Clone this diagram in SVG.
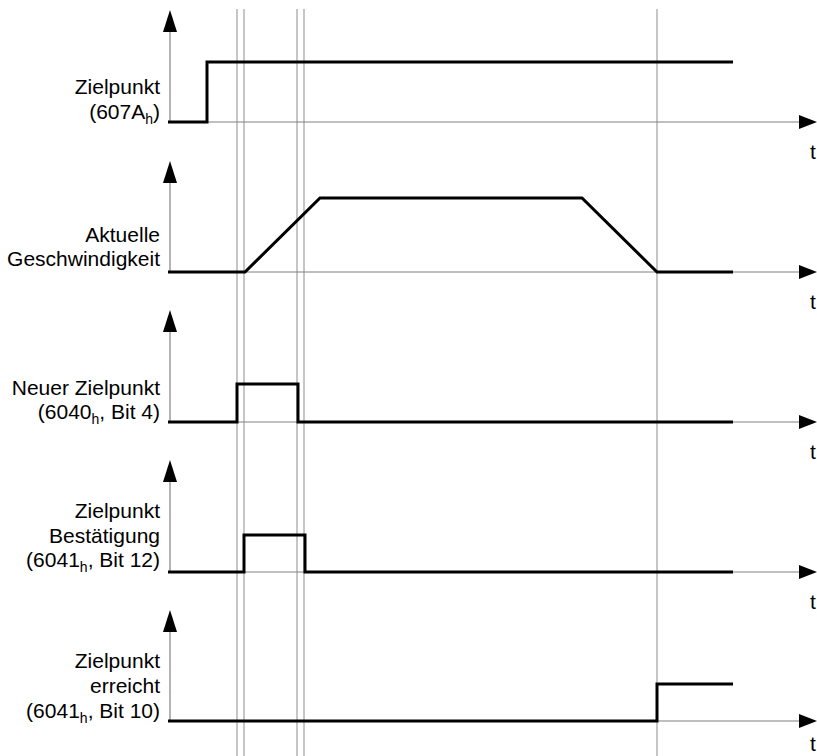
<svg xmlns="http://www.w3.org/2000/svg" width="817" height="756" viewBox="0 0 817 756">
<style>
.ax{stroke:#808080;stroke-width:1.2;fill:none}
.gd{stroke:#a0a0a0;stroke-width:1.2;fill:none}
.sig{stroke:#000;stroke-width:3;fill:none;stroke-linejoin:miter}
.ah{fill:#000}
text{font-family:"Liberation Sans",Arial,sans-serif;font-size:21px;fill:#000}
.lbl{text-anchor:end}
.sub{font-size:14px}
</style>
<rect width="817" height="756" fill="#fff"/>
<g id="guides">
<line class="gd" x1="237" y1="9" x2="237" y2="756"/>
<line class="gd" x1="244" y1="9" x2="244" y2="756"/>
<line class="gd" x1="297" y1="9" x2="297" y2="756"/>
<line class="gd" x1="304" y1="9" x2="304" y2="756"/>
<line class="gd" x1="657" y1="9" x2="657" y2="756"/>
</g>
<g id="connectors">
<g id="axes">
<line class="ax" x1="170" y1="122" x2="170" y2="30"/><polygon class="ah" points="170,10 163,32 177,32"/>
<line class="ax" x1="170" y1="122" x2="800" y2="122"/><polygon class="ah" points="817,122 799,115 799,129"/>
<line class="ax" x1="170" y1="272" x2="170" y2="180"/><polygon class="ah" points="170,161 163,183 177,183"/>
<line class="ax" x1="170" y1="272" x2="800" y2="272"/><polygon class="ah" points="817,272 799,265 799,279"/>
<line class="ax" x1="170" y1="422" x2="170" y2="330"/><polygon class="ah" points="170,310 163,332 177,332"/>
<line class="ax" x1="170" y1="422" x2="800" y2="422"/><polygon class="ah" points="817,422 799,415 799,429"/>
<line class="ax" x1="170" y1="572" x2="170" y2="480"/><polygon class="ah" points="170,460 163,482 177,482"/>
<line class="ax" x1="170" y1="572" x2="800" y2="572"/><polygon class="ah" points="817,572 799,565 799,579"/>
<line class="ax" x1="170" y1="721" x2="170" y2="630"/><polygon class="ah" points="170,610 163,632 177,632"/>
<line class="ax" x1="170" y1="721" x2="800" y2="721"/><polygon class="ah" points="817,721 799,714 799,728"/>
</g>
</g>
<g id="sig1">
<polyline class="sig" points="168,122 207,122 207,62 733,62"/>
<text class="lbl" x="160" y="94">Zielpunkt</text>
<text class="lbl" x="160" y="119">(607A<tspan class="sub" dy="5">h</tspan><tspan dy="-5">)</tspan></text>
<text x="810" y="159">t</text>
</g>
<g id="sig2">
<polyline class="sig" points="168,272 245,272 320,198 582,198 657,272 733,272"/>
<text class="lbl" x="160" y="242">Aktuelle</text>
<text class="lbl" x="160" y="266">Geschwindigkeit</text>
<text x="810" y="309">t</text>
</g>
<g id="sig3">
<polyline class="sig" points="168,422 237,422 237,384 298,384 298,422 733,422"/>
<text class="lbl" x="160" y="395">Neuer Zielpunkt</text>
<text class="lbl" x="160" y="419">(6040<tspan class="sub" dy="5">h</tspan><tspan dy="-5">, Bit 4)</tspan></text>
<text x="810" y="459">t</text>
</g>
<g id="sig4">
<polyline class="sig" points="168,572 244,572 244,535 305,535 305,572 733,572"/>
<text class="lbl" x="160" y="518">Zielpunkt</text>
<text class="lbl" x="160" y="543">Bestätigung</text>
<text class="lbl" x="160" y="567">(6041<tspan class="sub" dy="5">h</tspan><tspan dy="-5">, Bit 12)</tspan></text>
<text x="810" y="609">t</text>
</g>
<g id="sig5">
<polyline class="sig" points="168,721 657,721 657,684 733,684"/>
<text class="lbl" x="160" y="668">Zielpunkt</text>
<text class="lbl" x="160" y="693">erreicht</text>
<text class="lbl" x="160" y="718">(6041<tspan class="sub" dy="5">h</tspan><tspan dy="-5">, Bit 10)</tspan></text>
<text x="810" y="751">t</text>
</g>
</svg>
